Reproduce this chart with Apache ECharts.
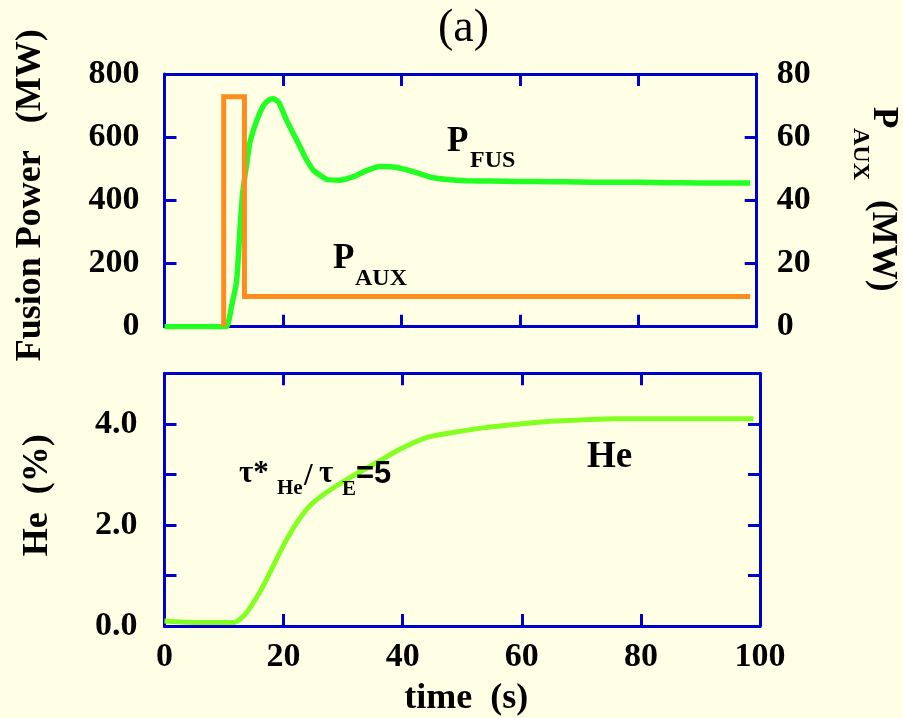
<!DOCTYPE html>
<html>
<head>
<meta charset="utf-8">
<script src="https://cdn.jsdelivr.net/npm/echarts@6/dist/echarts.min.js"></script>
<style>
html,body{margin:0;padding:0;background:#FFFFE5;}
#chart{width:903px;height:718px;}
</style>
</head>
<body>
<div id="chart"></div>
<script>
// ---- data ----
const fusTime  = [0, 10.4, 11.3, 12.2, 12.7, 13.2, 13.9, 14.4, 15.6, 16.7, 17.6, 18.4, 19.3, 20.6, 21.7, 22.9, 23.7, 25.1, 27.4, 29.6, 31.9, 34.1, 36.4, 39.2, 42, 44.8, 48.2, 51, 55, 60, 65, 70, 75, 80, 85, 90, 95, 98.9];
const fusPower = [0, 0, 63, 148, 296, 423, 518, 581, 654, 700, 718, 722, 710, 654, 613, 570, 538, 496, 466, 464, 475, 494, 507, 504, 491, 474, 465, 462, 461, 460, 459, 458, 457, 457, 456, 455, 455, 455];

const auxTime  = [10, 10, 13.5, 13.5, 98.9];
const auxPower = [0, 72.8, 72.8, 9.6, 9.6];

const heTime = [0, 6, 11.6, 13.3, 14.4, 16.1, 17.8, 20, 22.3, 24.5, 27.3, 31.2, 35.7, 39.6, 44.1, 48, 53.5, 59.1, 64.7, 70.3, 75.9, 84.3, 98.9];
const heFrac = [0.1, 0.07, 0.07, 0.2, 0.37, 0.69, 1.08, 1.6, 2.06, 2.39, 2.65, 2.94, 3.24, 3.5, 3.73, 3.82, 3.92, 3.99, 4.05, 4.08, 4.1, 4.1, 4.1];

const timeTicks = [0, 20, 40, 60, 80, 100];
const fusTicks = [0, 200, 400, 600, 800];
const auxTicks = [0, 20, 40, 60, 80];
const heTicks = [0, 1, 2, 3, 4, 5];

// ---- styling ----
const BLUE = '#0000CC';
const FONT = 'Liberation Serif';
const axisLine = {show: true, onZero: false, lineStyle: {color: BLUE, width: 3}};
const axisTick = {show: true, inside: true, length: 12, lineStyle: {color: BLUE, width: 3}};
const lbl = {fontFamily: FONT, fontWeight: 'bold', fontSize: 34, color: '#000'};
const nameStyle = {fontFamily: FONT, fontWeight: 'bold', fontSize: 36, color: '#000', verticalAlign: 'middle', align: 'center'};

const pairs = (xs, ys) => xs.map((x, i) => [x, ys[i]]);

const chart = echarts.init(document.getElementById('chart'), null, {renderer: 'canvas'});

const xBase = (grid, pos, showLabel) => ({
  type: 'value', gridIndex: grid, position: pos, min: timeTicks[0], max: timeTicks[timeTicks.length - 1],
  interval: timeTicks[1] - timeTicks[0],
  axisLine, axisTick, splitLine: {show: false},
  axisLabel: showLabel ? Object.assign({margin: 14}, lbl) : {show: false}
});

const txt = (x, y, text, size, family) => ({
  type: 'text', x, y, z: 100,
  style: {text, fontFamily: family || FONT, fontWeight: 'bold', fontSize: size, fill: '#000', align: 'left', verticalAlign: 'middle'}
});

const option = {
  backgroundColor: '#FFFFE5',
  animation: false,
  title: {
    text: '(a)', left: 433, top: 1,
    textStyle: {fontFamily: FONT, fontWeight: 'normal', fontSize: 46, color: '#000'}
  },
  grid: [
    {left: 164.5, top: 74, width: 592.2, height: 252.7},
    {left: 164.5, top: 373.3, width: 595.5, height: 255.4}
  ],
  xAxis: [
    xBase(0, 'bottom', false),
    xBase(0, 'top', false),
    Object.assign(xBase(1, 'bottom', true), {
      name: 'time  (s)', nameLocation: 'middle', nameGap: 73,
      nameTextStyle: Object.assign({}, nameStyle, {padding: [0, 0, 0, 8]})
    }),
    xBase(1, 'top', false)
  ],
  yAxis: [
    {
      type: 'value', gridIndex: 0, position: 'left', min: fusTicks[0], max: fusTicks[fusTicks.length - 1], interval: fusTicks[1] - fusTicks[0],
      axisLine, axisTick, splitLine: {show: false},
      axisLabel: Object.assign({margin: 25, padding: [0, 0, 8, 0]}, lbl),
      name: 'Fusion Power   (MW)', nameLocation: 'middle', nameRotate: 90, nameGap: 134,
      nameTextStyle: Object.assign({}, nameStyle, {padding: [0, 0, 0, 10]})
    },
    {
      type: 'value', gridIndex: 0, position: 'right', min: auxTicks[0], max: auxTicks[auxTicks.length - 1], interval: auxTicks[1] - auxTicks[0],
      axisLine, axisTick, splitLine: {show: false},
      axisLabel: Object.assign({margin: 20, padding: [0, 0, 8, 0]}, lbl)
    },
    {
      type: 'value', gridIndex: 1, position: 'left', min: heTicks[0], max: heTicks[heTicks.length - 1], interval: heTicks[1] - heTicks[0],
      axisLine, axisTick, splitLine: {show: false},
      axisLabel: Object.assign({margin: 27, padding: [0, 0, 9, 0],
        formatter: v => (v % 2 === 0 ? v.toFixed(1) : '')}, lbl),
      name: 'He  (%)', nameLocation: 'middle', nameRotate: 90, nameGap: 127,
      nameTextStyle: Object.assign({}, nameStyle, {padding: [0, 0, 0, 9]})
    },
    {
      type: 'value', gridIndex: 1, position: 'right', min: heTicks[0], max: heTicks[heTicks.length - 1], interval: heTicks[1] - heTicks[0],
      axisLine, axisTick, splitLine: {show: false}, axisLabel: {show: false}
    }
  ],
  series: [
    {
      name: 'P_FUS', type: 'line', xAxisIndex: 0, yAxisIndex: 0, showSymbol: false, symbol: 'none', smooth: 0.15,
      data: pairs(fusTime, fusPower), lineStyle: {color: '#22FF22', width: 5.5}, z: 3
    },
    {
      name: 'P_AUX', type: 'line', xAxisIndex: 0, yAxisIndex: 1, showSymbol: false, symbol: 'none',
      data: pairs(auxTime, auxPower), lineStyle: {color: '#FF8C1F', width: 5, join: 'miter', cap: 'butt'}, z: 4
    },
    {
      name: 'He', type: 'line', xAxisIndex: 2, yAxisIndex: 2, showSymbol: false, symbol: 'none', smooth: 0.3,
      data: pairs(heTime, heFrac), lineStyle: {color: '#84FF22', width: 5}, z: 3
    }
  ],
  graphic: [
    // P_FUS label
    txt(447, 141.5, 'P', 35),
    txt(470, 160.5, 'FUS', 24),
    // P_AUX label
    txt(333, 259, 'P', 35),
    txt(355, 278.5, 'AUX', 24),
    // He label
    txt(587, 457.5, 'He', 37),
    // tau*He / tauE = 5
    txt(239, 474, 'τ*', 31),
    txt(277, 489, 'He', 21),
    txt(304, 477, '/', 31),
    txt(319, 474, 'τ', 31),
    txt(342, 490, 'E', 21),
    txt(356, 474, '=5', 31, 'Liberation Sans'),
    // right axis title P_AUX (MW), reading top to bottom
    {
      type: 'group', x: 883.5, y: 107, rotation: -Math.PI / 2, z: 100,
      children: [
        txt(0, 0, 'P', 35),
        txt(21, 23.5, 'AUX', 24),
        txt(93, 1, '(MW)', 35)
      ]
    }
  ]
};
chart.setOption(option);
</script>
</body>
</html>
